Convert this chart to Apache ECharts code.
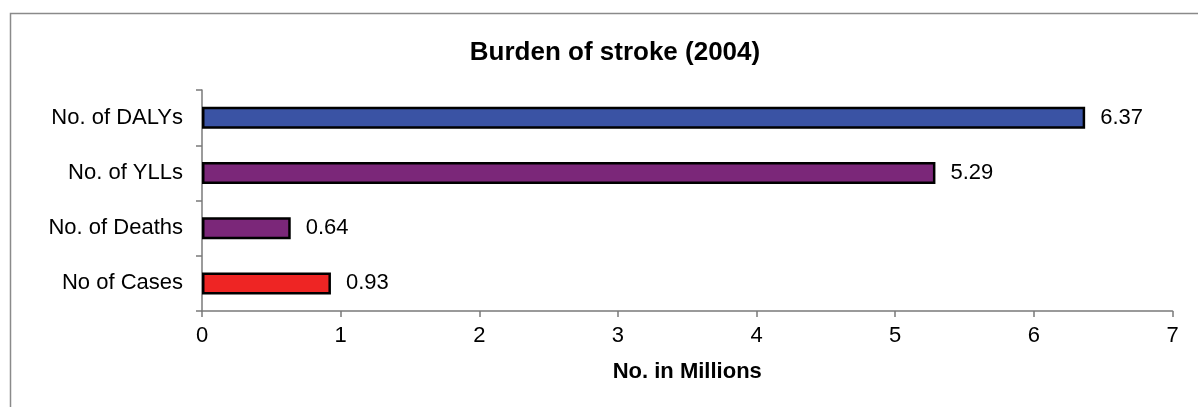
<!DOCTYPE html>
<html>
<head>
<meta charset="utf-8">
<script src="https://cdn.jsdelivr.net/npm/echarts@6/dist/echarts.min.js"></script>
<style>
  html, body { margin: 0; padding: 0; background: #fff; }
  #main { width: 1198px; height: 407px; }
</style>
</head>
<body>
<div id="main"></div>
<script>
// categories listed top to bottom
var categories = ['No. of DALYs', 'No. of YLLs', 'No. of Deaths', 'No of Cases'];
var values = [6.37, 5.29, 0.64, 0.93];
var xTicks = [0, 1, 2, 3, 4, 5, 6, 7];

var barColors = ['#3a53a4', '#7b2779', '#7b2779', '#ee2524'];
var font = 'Arial, "Liberation Sans", sans-serif';

var chart = echarts.init(document.getElementById('main'));

var seriesData = values.map(function (v, i) {
  return { value: v, itemStyle: { color: barColors[i] } };
});

chart.setOption({
  animation: false,
  title: {
    text: 'Burden of stroke (2004)',
    left: 610,
    top: 35,
    textAlign: 'center',
    textStyle: { fontFamily: font, fontSize: 26, fontWeight: 'bold', color: '#000' }
  },
  graphic: [{
    type: 'rect',
    shape: { x: 10.5, y: 13.5, width: 1300, height: 500 },
    style: { fill: 'none', stroke: '#8a8a8a', lineWidth: 1.5 },
    silent: true
  }],
  grid: { left: 202, right: 25.5, top: 90, bottom: 96 },
  xAxis: {
    type: 'value',
    min: xTicks[0],
    max: xTicks[xTicks.length - 1],
    interval: 1,
    name: 'No. in Millions',
    nameLocation: 'middle',
    nameGap: 50,
    nameTextStyle: { fontFamily: font, fontSize: 22, fontWeight: 'bold', color: '#000' },
    axisLine: { show: true, lineStyle: { color: '#7a7a7a', width: 1.5 } },
    axisTick: { show: true, length: 6, lineStyle: { color: '#7a7a7a', width: 1.5 } },
    axisLabel: { fontFamily: font, fontSize: 22, color: '#000', margin: 14 },
    splitLine: { show: false }
  },
  yAxis: {
    type: 'category',
    data: categories,
    inverse: true,
    axisLine: { show: true, lineStyle: { color: '#7a7a7a', width: 1.5 } },
    axisTick: { show: true, length: 6, lineStyle: { color: '#7a7a7a', width: 1.5 } },
    axisLabel: { fontFamily: font, fontSize: 22, color: '#000', margin: 19 }
  },
  series: [{
    type: 'bar',
    data: seriesData,
    barWidth: 22,
    itemStyle: { borderColor: '#000', borderWidth: 2.5 },
    label: {
      show: true,
      position: 'right',
      distance: 15,
      fontFamily: font,
      fontSize: 22,
      color: '#000'
    }
  }]
});
</script>
</body>
</html>
